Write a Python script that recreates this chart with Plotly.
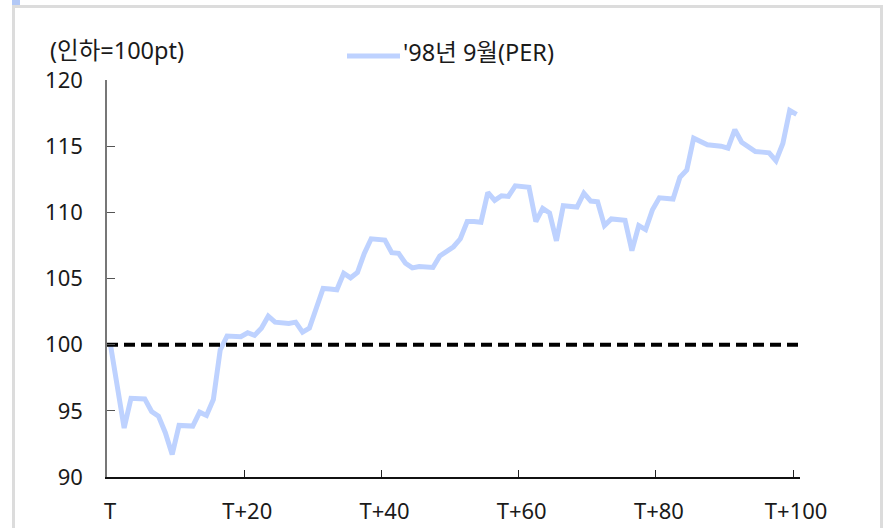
import plotly.graph_objects as go

# Index level after the rate cut (cut day = 100), trading days T .. T+100
days = list(range(0, 101))
per_1998_sep = [
    100.0, 96.9, 93.7, 95.95, 95.95, 95.9, 94.95, 94.6, 93.35, 91.7,
    93.9, 93.85, 93.85, 94.9, 94.65, 95.85, 99.6, 100.65, 100.65, 100.6,
    100.9, 100.7, 101.25, 102.15, 101.7, 101.65, 101.6, 101.7, 100.95, 101.25,
    102.8, 104.25, 104.2, 104.15, 105.4, 105.05, 105.45, 106.9, 108.0, 107.95,
    107.9, 106.95, 106.9, 106.15, 105.8, 105.9, 105.88, 105.83, 106.7, 107.0,
    107.4, 108.0, 109.3, 109.3, 109.25, 111.5, 110.9, 111.25, 111.2, 112.0,
    111.95, 111.9, 109.3, 110.3, 109.95, 107.85, 110.5, 110.45, 110.4, 111.45,
    110.85, 110.8, 109.0, 109.5, 109.45, 109.4, 107.1, 109.0, 108.7, 110.2,
    111.1, 111.05, 111.0, 112.65, 113.2, 115.6, 115.4, 115.1, 115.05, 115.0,
    114.85, 116.25, 115.3, 115.0, 114.6, 114.55, 114.5, 113.9, 115.2, 117.7,
    117.4,
]
base_level = [100.0, 100.0]
base_span = [-0.5, 100.5]

x_tick_pos = [-0.5, 19.5, 39.5, 59.5, 79.5, 99.5]
x_tick_text = ["T", "T+20", "T+40", "T+60", "T+80", "T+100"]
y_ticks = [90, 95, 100, 105, 110, 115, 120]

series_name = "'98년 9월(PER)"
unit_label = "(인하=100pt)"

LINE_BLUE = "rgb(190,210,255)"
FONT = "Noto Sans, Noto Sans CJK KR, sans-serif"
TEXT = "#1a1a1a"
FS = 22
FS_LABEL = 23.5

W, H = 885, 528
L, R, T, B = 107, 85, 80, 51
pw, ph = W - L - R, H - T - B


def px_x(p):
    return (p - L) / pw


def px_y(p):
    return (H - B - p) / ph


fig = go.Figure()
fig.add_trace(go.Scatter(
    x=days, y=per_1998_sep, mode="lines", name=series_name,
    line=dict(color=LINE_BLUE, width=5), showlegend=False,
    cliponaxis=False,
))
fig.add_trace(go.Scatter(
    x=base_span, y=base_level, mode="lines", showlegend=False,
    line=dict(color="black", width=4, dash="11px,6px"),
    cliponaxis=False,
))

shapes = [
    # outer frame
    dict(type="rect", xref="paper", yref="paper",
         x0=px_x(13.5), x1=px_x(881.5), y0=px_y(545), y1=px_y(6.5),
         line=dict(color="#dcdcdc", width=3), fillcolor="rgba(0,0,0,0)",
         layer="below"),
    dict(type="rect", xref="paper", yref="paper",
         x0=px_x(12), x1=px_x(20), y0=px_y(5), y1=px_y(-2),
         line=dict(width=0), fillcolor="rgb(178,200,246)"),
    # legend sample
    dict(type="line", xref="paper", yref="paper",
         x0=px_x(347), x1=px_x(400), y0=px_y(56), y1=px_y(56),
         line=dict(color=LINE_BLUE, width=5)),
]

annotations = [
    dict(text=unit_label, xref="paper", yref="paper", x=px_x(48), y=px_y(50),
         xanchor="left", yanchor="middle", showarrow=False,
         font=dict(family=FONT, size=FS_LABEL, color=TEXT)),
    dict(text=series_name, xref="paper", yref="paper", x=px_x(401), y=px_y(52),
         xanchor="left", yanchor="middle", showarrow=False,
         font=dict(family=FONT, size=FS_LABEL, color=TEXT)),
]

fig.update_layout(
    width=W, height=H,
    margin=dict(l=L, r=R, t=T, b=B, pad=0, autoexpand=False),
    paper_bgcolor="white", plot_bgcolor="white",
    font=dict(family=FONT, size=FS, color=TEXT),
    shapes=shapes, annotations=annotations,
    showlegend=False,
)
fig.update_xaxes(
    automargin=False,
    range=[-0.5, 100.5], tickmode="array", tickvals=x_tick_pos, ticktext=x_tick_text,
    ticklabelshift=3, ticks="inside", ticklen=7, tickwidth=1.3, tickcolor="#222",
    showline=True, linecolor="#111", linewidth=1.5, showgrid=False, zeroline=False,
    ticklabelstandoff=14, tickfont=dict(family=FONT, size=FS, color=TEXT),
)
fig.update_yaxes(
    automargin=False,
    range=[90, 120], tickmode="array", tickvals=y_ticks,
    ticks="inside", ticklen=8, tickwidth=1.3, tickcolor="#555",
    showline=True, linecolor="#777", linewidth=1.5, showgrid=False, zeroline=False,
    ticklabelstandoff=18, tickfont=dict(family=FONT, size=FS, color=TEXT),
)

fig.write_html("out.html")
